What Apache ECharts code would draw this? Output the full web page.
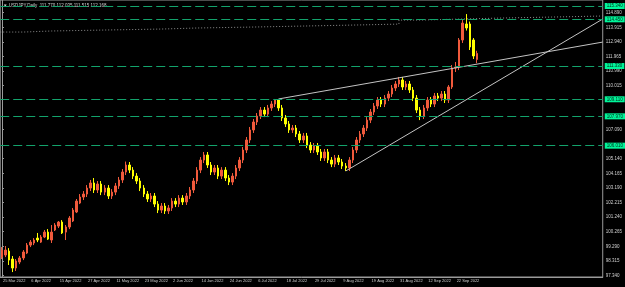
<!DOCTYPE html>
<html>
<head>
<meta charset="utf-8">
<script src="https://cdn.jsdelivr.net/npm/echarts@6/dist/echarts.min.js"></script>
<style>
  html, body { margin: 0; padding: 0; background: #000; }
  #chart { width: 625px; height: 287px; }
</style>
</head>
<body>
<div id="chart"></div>
<script>
// date labels, one every 8 bars
const dateLabels = ['25 Mar 2022', '6 Apr 2022', '15 Apr 2022', '27 Apr 2022', '11 May 2022', '23 May 2022',
  '2 Jun 2022', '14 Jun 2022', '24 Jun 2022', '6 Jul 2022', '18 Jul 2022', '29 Jul 2022', '9 Aug 2022',
  '19 Aug 2022', '31 Aug 2022', '12 Sep 2022', '22 Sep 2022']
const barCount = 170   // bars incl. the empty shift on the right

// [open, close, low, high]
const candles = [
  [98.57, 99.04, 98.44, 99.24], [98.71, 99.04, 98.57, 99.31], [98.97, 98.37, 98.04, 99.17], [98.44, 97.84, 97.57, 98.64],
  [97.84, 98.31, 97.64, 98.44], [98.24, 98.51, 98.10, 98.64], [98.51, 98.91, 98.37, 99.04], [98.84, 99.37, 98.77, 99.51],
  [99.37, 99.57, 99.24, 99.71], [99.51, 99.71, 99.37, 99.84], [99.84, 99.71, 99.57, 100.18], [99.57, 99.91, 99.51, 100.04],
  [99.91, 100.24, 99.84, 100.38], [100.24, 99.77, 99.71, 100.44], [99.71, 100.24, 99.51, 100.71], [100.38, 100.71, 100.31, 100.84],
  [100.64, 100.91, 100.51, 100.98], [100.91, 100.18, 100.11, 101.04], [100.24, 100.58, 99.71, 100.71], [100.58, 101.18, 100.44, 101.31],
  [100.98, 101.71, 100.91, 101.85], [101.58, 102.31, 101.51, 102.45], [102.18, 102.58, 102.11, 102.78], [102.58, 102.78, 102.38, 102.98],
  [102.78, 103.18, 102.58, 103.38], [103.18, 103.52, 102.98, 103.72], [103.52, 103.05, 102.85, 103.85], [103.05, 103.45, 102.85, 103.65],
  [103.45, 102.91, 102.71, 103.65], [102.91, 103.18, 102.71, 103.38], [103.18, 102.65, 102.45, 103.38], [102.65, 102.91, 102.45, 103.11],
  [102.91, 103.32, 102.71, 103.52], [103.32, 103.72, 103.12, 103.92], [103.72, 104.25, 103.52, 104.45], [104.25, 104.72, 104.05, 104.95],
  [104.72, 104.38, 104.18, 104.92], [104.38, 103.98, 103.78, 104.58], [103.98, 103.65, 103.45, 104.18], [103.65, 103.18, 102.98, 103.85],
  [103.18, 102.78, 102.58, 103.38], [102.78, 102.45, 102.25, 102.98], [102.45, 102.65, 102.25, 102.85], [102.65, 102.11, 101.91, 102.85],
  [102.11, 101.71, 101.51, 102.31], [101.71, 101.98, 101.51, 102.18], [101.98, 101.65, 101.45, 102.18], [101.65, 101.85, 101.45, 102.05],
  [101.85, 102.31, 101.65, 102.51], [102.31, 102.11, 101.91, 102.51], [102.11, 102.51, 101.91, 102.71], [102.51, 102.25, 102.05, 102.71],
  [102.25, 102.65, 102.05, 102.85], [102.65, 103.05, 102.45, 103.25], [103.05, 103.65, 102.85, 103.85], [103.65, 104.38, 103.45, 104.58],
  [104.38, 105.05, 104.18, 105.25], [105.05, 105.39, 104.85, 105.59], [105.39, 104.72, 104.52, 105.59], [104.72, 104.25, 104.05, 104.92],
  [104.25, 104.52, 104.05, 104.72], [104.52, 103.98, 103.78, 104.72], [103.98, 104.38, 103.78, 104.58], [104.38, 103.85, 103.65, 104.58],
  [103.85, 103.58, 103.38, 104.05], [103.58, 103.98, 103.38, 104.18], [103.98, 104.52, 103.78, 104.72], [104.52, 105.05, 104.32, 105.25],
  [105.05, 105.72, 104.85, 105.92], [105.72, 106.39, 105.52, 106.59], [106.39, 107.06, 106.19, 107.26], [107.06, 107.59, 106.86, 107.79],
  [107.59, 107.99, 107.39, 108.19], [107.99, 108.39, 107.79, 108.59], [108.39, 108.12, 107.92, 108.59], [108.12, 108.53, 107.92, 108.73],
  [108.53, 108.79, 108.33, 108.99], [108.79, 109.06, 108.59, 109.13], [109.06, 108.53, 108.33, 109.06], [108.53, 107.86, 107.66, 108.73],
  [107.86, 107.46, 107.26, 108.06], [107.46, 107.06, 106.86, 107.66], [107.06, 107.19, 106.86, 107.39], [107.19, 106.79, 106.59, 107.39],
  [106.79, 106.39, 106.19, 106.99], [106.39, 106.66, 106.19, 106.86], [106.66, 106.05, 105.85, 106.86], [106.05, 105.72, 105.52, 106.25],
  [105.72, 105.99, 105.52, 106.19], [105.99, 105.59, 105.39, 106.19], [105.59, 105.19, 104.99, 105.79], [105.19, 105.59, 104.99, 105.79],
  [105.59, 105.05, 104.85, 105.79], [105.05, 104.78, 104.58, 105.25], [104.78, 105.19, 104.58, 105.39], [105.19, 104.92, 104.72, 105.39],
  [104.92, 104.65, 104.45, 105.12], [104.65, 104.52, 104.32, 104.85], [104.52, 105.05, 104.32, 105.25], [105.05, 105.72, 104.85, 105.92],
  [105.72, 106.39, 105.52, 106.59], [106.39, 106.79, 106.19, 106.99], [106.79, 107.19, 106.59, 107.39], [107.19, 107.72, 106.99, 107.92],
  [107.72, 108.26, 107.52, 108.46], [108.26, 108.66, 108.06, 108.86], [108.66, 109.06, 108.46, 109.26], [109.06, 108.79, 108.59, 109.26],
  [108.79, 109.19, 108.59, 109.39], [109.19, 109.46, 108.99, 109.66], [109.46, 109.86, 109.26, 110.06], [109.86, 110.13, 109.66, 110.33],
  [110.13, 110.40, 109.93, 110.60], [110.40, 109.93, 109.73, 110.60], [109.93, 110.13, 109.73, 110.33], [110.13, 109.73, 109.53, 110.33],
  [109.73, 109.19, 108.99, 109.93], [109.19, 108.39, 108.19, 109.39], [108.39, 107.99, 107.72, 108.59], [107.99, 108.53, 107.79, 108.73],
  [108.53, 109.06, 108.33, 109.26], [109.06, 108.79, 108.59, 109.26], [108.79, 109.33, 108.59, 109.53], [109.33, 109.19, 108.99, 109.53],
  [109.19, 109.46, 108.99, 109.66], [109.46, 109.06, 108.86, 109.66], [109.06, 109.93, 108.86, 110.06], [109.93, 111.20, 109.80, 111.40],
  [111.20, 111.26, 110.93, 111.60], [111.26, 113.07, 111.06, 113.20], [113.07, 114.20, 112.87, 114.40], [114.14, 113.87, 113.70, 114.80],
  [114.14, 112.60, 112.40, 114.30], [113.07, 112.00, 111.80, 113.20], [111.77, 112.17, 111.52, 112.35]
]

const yTicks = [114.890, 113.915, 112.940, 111.965, 110.990, 110.015, 107.090, 105.140, 104.165, 103.190,
  102.215, 101.240, 100.265, 99.290, 98.315, 97.340]
const levels = [115.340, 114.450, 111.330, 109.110, 107.970, 106.010]
const lastPrice = 112.168
// [bar index, price]
const trendHigh = [[78, 109.13], [169.5, 112.93]]
const trendLow = [[97, 104.32], [169.5, 114.47]]
const refLine = [[-0.5, 113.60], [6, 113.67], [14, 113.73], [28, 113.80], [45, 113.87], [55, 113.93], [70, 114.00],
  [85, 114.07], [100, 114.13], [112, 114.40], [118, 114.47], [130, 114.53], [140, 114.60], [155, 114.67], [169.5, 114.74]]

const cats = []
for (let i = 0; i < barCount; i++) cats.push(String(i))
const candleData = cats.map((c, i) => candles[i] || '-')

const chart = echarts.init(document.getElementById('chart'))
const axisColor = '#9a9a9a'
const textColor = '#cfcfcf'
const font = 'Liberation Sans'

chart.setOption({
  backgroundColor: '#000',
  animation: false,
  textStyle: { fontFamily: font },
  graphic: [{
    type: 'text', left: 3, top: 3,
    style: { text: '▼ USDJPY,Daily  111.770 112.035 111.515 112.168', fill: textColor, font: '4.5px Liberation Sans' }
  }],
  grid: { left: 0, right: 21, top: 0, bottom: 10, show: true, borderColor: axisColor, borderWidth: 1 },
  xAxis: [{
    type: 'category',
    data: cats,
    boundaryGap: true,
    axisLine: { lineStyle: { color: axisColor } },
    axisTick: { interval: 7, alignWithLabel: true, length: 3, lineStyle: { color: axisColor } },
    axisLabel: {
      interval: 7, align: 'left', color: textColor, fontSize: 4, margin: 2, padding: [0, 0, 0, 1],
      showMinLabel: true, hideOverlap: false,
      formatter: v => dateLabels[Number(v) / 8] || ''
    },
    splitLine: { show: false }
  }, {
    type: 'value', min: -0.5, max: barCount - 0.5, show: false
  }],
  yAxis: {
    type: 'value',
    position: 'right',
    min: 97.24,
    max: 115.74,
    splitLine: { show: false },
    axisLine: { show: true, lineStyle: { color: axisColor } },
    axisTick: { show: true, length: 2, customValues: yTicks, lineStyle: { color: axisColor } },
    axisLabel: { customValues: yTicks, color: textColor, fontSize: 4.5, margin: 3, formatter: v => v.toFixed(3) }
  },
  series: [
    {
      type: 'candlestick',
      data: candleData,
      barWidth: 2,
      itemStyle: { color: '#f05a3c', color0: '#ffff00', borderColor: '#f05a3c', borderColor0: '#ffff00', borderWidth: 1 },
      markLine: {
        silent: true,
        symbol: 'none',
        lineStyle: { color: '#13a36c', type: [9, 4], width: 1 },
        label: {
          position: 'end', distance: 2, fontSize: 4.5, color: '#002a18', backgroundColor: '#00f59a',
          padding: [1, 2, 0, 2], formatter: p => p.value.toFixed(3)
        },
        data: levels.map(v => ({ yAxis: v })).concat([{
          yAxis: lastPrice,
          lineStyle: { width: 0, opacity: 0 },
          label: { backgroundColor: '#ffffff', color: '#000' }
        }])
      }
    },
    {
      type: 'line', xAxisIndex: 1, data: refLine, step: 'end', symbol: 'none',
      lineStyle: { color: '#8c8c8c', width: 1, type: [1, 2] }
    },
    {
      type: 'line', xAxisIndex: 1, data: trendHigh, symbol: 'none',
      lineStyle: { color: '#c4c4c4', width: 1 }
    },
    {
      type: 'line', xAxisIndex: 1, data: trendLow, symbol: 'none',
      lineStyle: { color: '#c4c4c4', width: 1 }
    }
  ]
})
</script>
</body>
</html>
